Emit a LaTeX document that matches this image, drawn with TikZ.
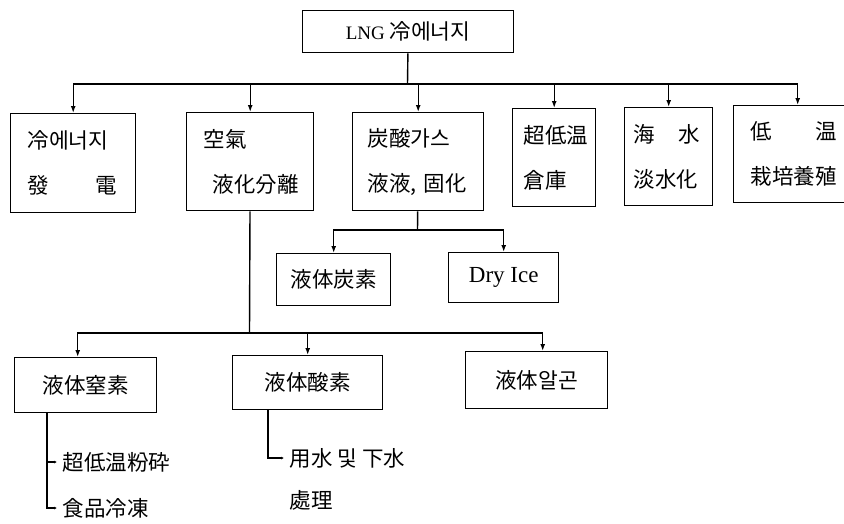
\documentclass[tikz,border=0pt]{standalone}
\usepackage{fontspec}
\newfontfamily\kr{Noto Sans CJK KR}
\newfontfamily\lat{Liberation Serif}
\usepackage{tikz}
\usetikzlibrary{
	positioning,
	arrows.meta
}
\tikzset{
	sector/.style={draw,anchor=north west,inner sep=0pt,align=left,
		font=\kr\fontsize{21.5}{45}\selectfont},
	leaf/.style={draw,anchor=north west,inner sep=0pt,
		font=\kr\fontsize{21.5}{26}\selectfont},
	usage/.style={anchor=west,inner xsep=5pt,inner ysep=0pt,
		font=\kr\fontsize{21.5}{26}\selectfont},
	feed/.style={-{Latex[length=7pt,width=5pt]}},
	twig/.style={-{Latex[length=3pt,width=3pt]}}
}

\begin{document}
\begin{tikzpicture}[x=1pt,y=-1pt,line width=1.4pt]
		\useasboundingbox (0,0) rectangle (844,523);

		\node [leaf,minimum width=211pt,minimum height=42pt] (lng) at (302,10)
			{{\lat\fontsize{19}{22}\selectfont LNG} 冷에너지};

		\node [sector,minimum width=125pt,minimum height=99pt,inner xsep=17pt,text width=91pt] (gen) at (10,113)
			{冷에너지\\發\hspace*{46pt}電};
		\node [sector,minimum width=127pt,minimum height=98pt,inner xsep=17pt,text width=93pt] (air) at (186,112)
			{空氣\\\hspace*{9pt}液化分離};
		\node [sector,minimum width=131pt,minimum height=98pt,inner xsep=15pt,text width=101pt] (co2) at (352,112)
			{炭酸가스\\液液, 固化};
		\node [sector,minimum width=83pt,minimum height=98pt,inner xsep=11pt,text width=61pt] (cold) at (512,108)
			{超低温\\倉庫};
		\node [sector,minimum width=88pt,minimum height=98pt,inner xsep=9pt,text width=70pt] (sea) at (624,107)
			{海\hspace*{23pt}水\\淡水化};
		\node [sector,minimum width=128pt,minimum height=97pt,inner xsep=17pt,text width=94pt] (farm) at (733,105)
			{低\hspace*{43pt}温\\栽培養殖};

		\node [leaf,minimum width=114pt,minimum height=52pt] (liqc) at (276,253) {液体炭素};
		\node [leaf,minimum width=110pt,minimum height=50pt] (dry) at (448,252)
			{\lat\fontsize{23}{26}\selectfont Dry Ice};

		\node [leaf,minimum width=142pt,minimum height=55pt] (nitro) at (14,357) {液体窒素};
		\node [leaf,minimum width=150pt,minimum height=54pt] (oxy) at (232,355) {液体酸素};
		\node [leaf,minimum width=142pt,minimum height=57pt] (argon) at (465,351) {液体알곤};

		\node [usage] (pulv) at (57,462) {超低温粉砕};
		\node [usage] (frz) at (57,508) {食品冷凍};
		\node [usage] (water) at (284,458) {用水 및 下水};
		\node [usage] (treat) at (284,500) {處理};

		% main feed
		\coordinate (hub) at (407.5,84);
		\draw (lng) -- (hub);
		\foreach \k in {gen,air,co2,cold,sea,farm}
			\draw [feed] (hub) -| (\k.north);

		% carbonic acid gas
		\coordinate (co2hub) at (417.5,230);
		\draw (co2) -- (co2hub);
		\foreach \k in {liqc,dry}
			\draw [feed] (co2hub) -| (\k.north);

		% air separation
		\coordinate (airhub) at (249.5,333);
		\draw (air) -- (airhub);
		\draw [feed] (airhub) -| ([xshift=-8pt]nitro.north);
		\draw [feed] (airhub) -| (oxy.north);
		\draw [feed] (airhub) -| ([xshift=6pt]argon.north);

		\draw [twig] ([xshift=33pt]nitro.south west) |- (pulv.west);
		\draw [twig] ([xshift=33pt]nitro.south west) |- (frz.west);
		\draw [twig] ([xshift=36pt]oxy.south west) |- (water.west);
\end{tikzpicture}
\end{document}
